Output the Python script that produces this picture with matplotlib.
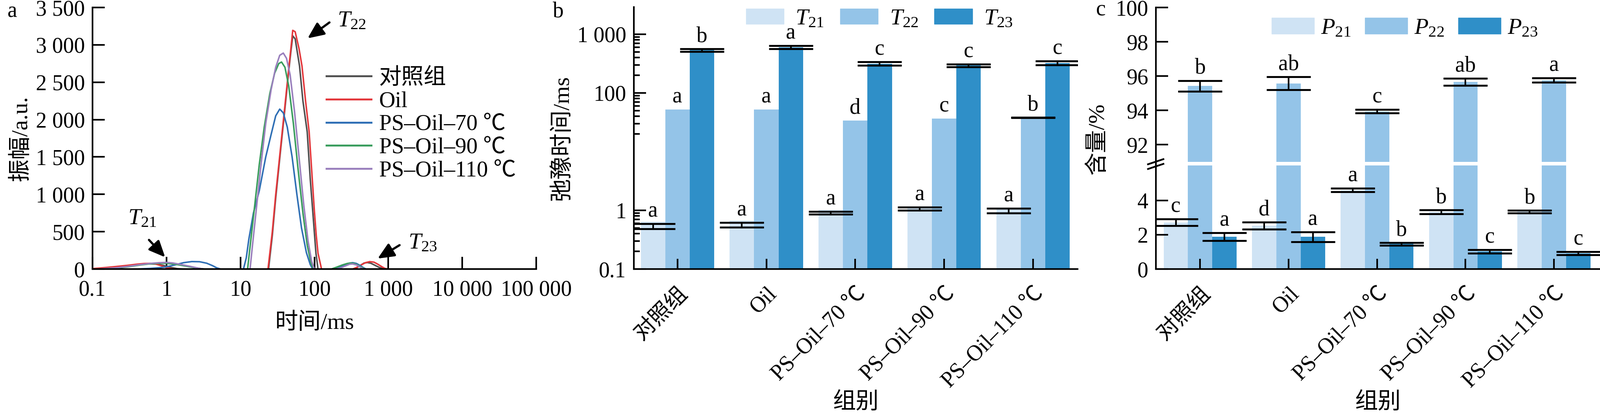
import numpy as np
import matplotlib
matplotlib.use('Agg')
import matplotlib.pyplot as plt
from matplotlib.lines import Line2D
from matplotlib.patches import Patch

plt.rcParams['font.family'] = ['Liberation Serif', 'Noto Sans CJK SC']
plt.rcParams['mathtext.fontset'] = 'custom'
plt.rcParams['mathtext.rm'] = 'Liberation Serif'
plt.rcParams['mathtext.it'] = 'Liberation Serif:italic'
plt.rcParams['font.size'] = 40
plt.rcParams['axes.linewidth'] = 3

# ---------------- data ----------------
# panel a: T2 distributions (time ms, amplitude)
ctrl_x = [0.1, 0.15, 0.2, 0.3, 0.4, 0.5, 0.6, 0.75, 0.9, 1.1, 1.4, 1.7,
          24, 27, 30, 35, 40, 45, 48, 51, 55, 63, 70, 80, 88, 95, 105, 112,
          340, 380, 420, 470, 520, 580, 660, 760, 910, 10000]
ctrl_y = [3, 15, 28, 45, 58, 66, 70, 66, 50, 25, 5, 0,
          0, 450, 950, 1600, 2150, 2650, 2900, 3120, 3080, 2717, 2250, 1835, 1200, 776, 212, 0,
          0, 22, 50, 80, 87, 78, 50, 20, 0, 0]
oil_x = [0.1, 0.15, 0.2, 0.3, 0.4, 0.5, 0.6, 0.7, 0.85, 1.0, 1.2, 1.4,
         23.6, 27, 30, 35, 40, 45, 48, 51, 55, 62, 68, 76, 85, 93, 100, 106, 112, 125,
         330, 380, 430, 490, 560, 640, 720, 820, 900, 980, 10000]
oil_y = [5, 20, 32, 50, 65, 74, 76, 70, 45, 20, 3, 0,
         0, 500, 995, 1635, 2190, 2680, 2940, 3194, 3175, 2950, 2717, 2250, 1835, 1250, 776, 450, 212, 0,
         0, 25, 55, 85, 99, 92, 65, 30, 8, 0, 0]
ps70_x = [0.1, 0.4, 0.6, 0.8, 1.0, 1.3, 1.7, 2.2, 2.8, 3.5, 4.2, 4.8, 5.4,
          11, 12, 13, 15, 18, 22, 26, 30, 34, 38, 43, 50, 58, 67, 78, 88, 95,
          190, 220, 260, 300, 330, 370, 420, 460, 500, 10000]
ps70_y = [0, 0, 8, 18, 30, 55, 85, 100, 98, 78, 45, 15, 0,
          0, 150, 400, 750, 1050, 1500, 1800, 2050, 2140, 2090, 1900, 1500, 1000, 550, 220, 60, 0,
          0, 20, 55, 80, 85, 75, 45, 18, 0, 0]
ps90_x = [0.1, 0.15, 0.2, 0.3, 0.45, 0.6, 0.8, 1.0, 1.3, 1.7, 2.2, 2.8, 3.3,
          12.5, 13.5, 15, 18, 21, 25, 29, 33, 36, 40, 45, 52, 60, 70, 80, 90, 97,
          170, 200, 240, 280, 310, 350, 400, 440, 480, 10000]
ps90_y = [0, 0, 10, 30, 55, 70, 78, 76, 65, 45, 25, 8, 0,
          0, 300, 700, 1400, 1900, 2350, 2620, 2750, 2770, 2700, 2450, 1950, 1350, 750, 320, 80, 0,
          0, 25, 55, 75, 80, 72, 45, 20, 0, 0]
ps110_x = [0.1, 0.12, 0.2, 0.3, 0.45, 0.6, 0.8, 1.0, 1.2, 1.5, 2.0, 2.6, 3.2,
           13.5, 14.5, 16, 19, 22, 26, 30, 34, 38, 42, 47, 54, 62, 72, 82, 92, 100,
           200, 230, 260, 300, 330, 370, 410, 460, 10000]
ps110_y = [0, 0, 15, 35, 60, 75, 85, 88, 82, 65, 40, 15, 0,
           0, 300, 700, 1400, 1950, 2400, 2700, 2860, 2890, 2820, 2600, 2100, 1500, 850, 380, 100, 0,
           0, 18, 40, 65, 68, 55, 30, 0, 0]
curve_names = ['对照组', 'Oil', 'PS–Oil–70 ℃', 'PS–Oil–90 ℃', 'PS–Oil–110 ℃']
curve_colors = ['#505050', '#e3383c', '#2f6fb5', '#3a9d5d', '#9a80bd']

# panels b, c: groups
groups = ['对照组', 'Oil', 'PS–Oil–70 ℃', 'PS–Oil–90 ℃', 'PS–Oil–110 ℃']
bar_colors = ['#cfe3f4', '#94c4e8', '#2f8fc8']

t21 = [0.54, 0.568, 0.91, 1.065, 0.99]
t21_err = [0.053, 0.053, 0.047, 0.065, 0.09]
t22 = [52.1, 52.1, 33.6, 36.6, 38.0]
t22_err = [0, 0, 0, 0, 0.5]
t23 = [535, 597, 315, 294, 323]
t23_err = [30, 37, 21, 15, 24]
t21_sig = ['a', 'a', 'a', 'a', 'a']
t22_sig = ['a', 'a', 'd', 'c', 'b']
t23_sig = ['b', 'a', 'c', 'c', 'c']

p21 = [2.72, 2.53, 4.61, 3.34, 3.35]
p21_err = [0.19, 0.2, 0.1, 0.12, 0.08]
p22 = [95.43, 95.58, 93.95, 95.66, 95.76]
p22_err = [0.31, 0.38, 0.1, 0.2, 0.13]
p23 = [1.88, 1.88, 1.47, 1.03, 0.92]
p23_err = [0.23, 0.29, 0.08, 0.1, 0.1]
p21_sig = ['c', 'd', 'a', 'b', 'b']
p22_sig = ['b', 'ab', 'c', 'ab', 'a']
p23_sig = ['a', 'a', 'b', 'c', 'c']

# ---------------- figure ----------------
W, H = 4064, 1051
fig = plt.figure(figsize=(W / 100, H / 100), dpi=100)


def px_axes(x0, y0, x1, y1):
    return fig.add_axes([x0 / W, 1 - y1 / H, (x1 - x0) / W, (y1 - y0) / H])


def style(ax):
    ax.spines['top'].set_visible(False)
    ax.spines['right'].set_visible(False)
    ax.tick_params(direction='in', width=3, length=22, pad=14)
    ax.tick_params(which='minor', direction='in', width=3, length=11)


# ---- panel a ----
ax = px_axes(235, 19, 1362, 683)
style(ax)
curves = [(ctrl_x, ctrl_y), (oil_x, oil_y), (ps70_x, ps70_y), (ps90_x, ps90_y), (ps110_x, ps110_y)]
for (cx, cy), name, col in zip(curves, curve_names, curve_colors):
    ax.plot(cx, cy, color=col, lw=2.8, label=name)
ax.set_xscale('log')
ax.set_xlim(0.1, 100000)
ax.set_ylim(0, 3500)
ax.set_xticks([0.1, 1, 10, 100, 1000, 10000, 100000])
ax.set_xticklabels(['0.1', '1', '10', '100', '1 000', '10 000', '100 000'])
ax.xaxis.set_minor_locator(matplotlib.ticker.NullLocator())
ax.set_yticks(np.arange(0, 3501, 500))
ax.set_yticklabels(['0', '500', '1 000', '1 500', '2 000', '2 500', '3 000', '3 500'])
ax.tick_params(axis='x', pad=20)
ax.set_xlabel('时间/ms', fontsize=42, labelpad=22)
ax.set_ylabel('振幅/a.u.', fontsize=42, labelpad=8)

arrow = dict(arrowstyle='-|>,head_length=0.9,head_width=0.4', lw=4, color='k',
             mutation_scale=28, shrinkA=0, shrinkB=0)
ax.annotate('', xy=(0.96, 158), xytext=(0.58, 390), arrowprops=arrow)
ax.text(0.3, 600, r'$\mathit{T}_{\mathrm{21}}$', fontsize=42, va='baseline')
ax.annotate('', xy=(81, 3087), xytext=(160, 3300), arrowprops=arrow)
ax.text(204, 3244, r'$\mathit{T}_{\mathrm{22}}$', fontsize=42, va='baseline')
ax.annotate('', xy=(718, 140), xytext=(1420, 320), arrowprops=arrow)
ax.text(1850, 273, r'$\mathit{T}_{\mathrm{23}}$', fontsize=42, va='baseline')

leg = ax.legend(loc='upper left', bbox_to_anchor=(829 / W, 1 - 172 / H),
                bbox_transform=fig.transFigure, frameon=False, fontsize=41,
                handlelength=2.0, handletextpad=0.35, labelspacing=0.12,
                borderpad=0, borderaxespad=0)
for ln in leg.get_lines():
    ln.set_linewidth(3.5)

fig.text(31 / W, 1 - 30 / H, 'a', fontsize=40, va='center', ha='center')

# ---- panel b ----
xg = np.arange(len(groups))
bw = 0.275
ax = px_axes(1610, 18, 2737, 683)
style(ax)
ax.set_yscale('log')
series_b = [(t21, t21_err, t21_sig), (t22, t22_err, t22_sig), (t23, t23_err, t23_sig)]
for i, (vals, errs, sig) in enumerate(series_b):
    pos = xg + (i - 1) * bw
    ax.bar(pos, vals, width=bw, color=bar_colors[i], bottom=0.1, zorder=1)
    errs = np.array(errs)
    m = errs > 0
    ax.errorbar(pos[m], np.array(vals)[m], yerr=errs[m], fmt='none', ecolor='k',
                elinewidth=3, capsize=40, capthick=3.5, zorder=3)
    for p, v, e, s in zip(pos, vals, errs, sig):
        ax.annotate(s, (p, v + e), xytext=(0, 4), textcoords='offset points',
                    ha='center', va='bottom', fontsize=40)
ax.set_xlim(-0.49, 4.5)
ax.set_ylim(0.1, 2900)
ax.set_yticks([0.1, 1, 100, 1000])
ax.set_yticklabels(['0.1', '1', '100', '1 000'])
ax.set_yticks([0.2, 0.3, 0.4, 0.5, 0.6, 0.7, 0.8, 0.9, 20, 30, 40, 50, 60, 70, 80, 90,
               200, 300, 400, 500, 600, 700, 800, 900], minor=True)
ax.yaxis.set_minor_formatter(matplotlib.ticker.NullFormatter())
ax.set_xticks(xg)
ax.set_xticklabels(groups, rotation=45, ha='right', va='top', rotation_mode='anchor')
ax.tick_params(axis='x', length=19, pad=26)
ax.set_xlabel('组别', fontsize=42, labelpad=0)
ax.set_ylabel('弛豫时间/ms', fontsize=42, labelpad=8)
handles = [Patch(color=c) for c in bar_colors]
ax.legend(handles, [r'$\mathit{T}_{\mathrm{21}}$', r'$\mathit{T}_{\mathrm{22}}$', r'$\mathit{T}_{\mathrm{23}}$'],
          loc='upper left', bbox_to_anchor=(1895 / W, 1 - 22 / H), bbox_transform=fig.transFigure,
          ncol=3, frameon=False, fontsize=42, handlelength=1.65, handleheight=0.65,
          handletextpad=0.5, columnspacing=0.7, borderpad=0, borderaxespad=0)
fig.text(1418 / W, 1 - 30 / H, 'b', fontsize=40, va='center', ha='center')

# ---- panel c (broken axis) ----
ax_hi = px_axes(2936, 19, W, 411)
ax_lo = px_axes(2936, 420, W, 683)
for a in (ax_hi, ax_lo):
    style(a)
    a.set_xlim(-0.5, 4.52)
ax_hi.spines['bottom'].set_visible(False)
ax_hi.tick_params(axis='x', bottom=False, labelbottom=False)
series_c = [(p21, p21_err, p21_sig), (p22, p22_err, p22_sig), (p23, p23_err, p23_sig)]
for i, (vals, errs, sig) in enumerate(series_c):
    pos = xg + (i - 1) * bw
    for a in (ax_hi, ax_lo):
        a.bar(pos, vals, width=bw, color=bar_colors[i], zorder=1)
        a.errorbar(pos, vals, yerr=errs, fmt='none', ecolor='k',
                   elinewidth=3, capsize=40, capthick=3.5, zorder=3)
    target = ax_hi if i == 1 else ax_lo
    for p, v, e, s in zip(pos, vals, errs, sig):
        target.annotate(s, (p, v + e), xytext=(0, 4), textcoords='offset points',
                        ha='center', va='bottom', fontsize=40)
ax_hi.set_ylim(91, 100)
ax_hi.set_yticks([92, 94, 96, 98, 100])
ax_lo.set_ylim(0, 6.05)
ax_lo.set_yticks([0, 2, 4])
ax_lo.set_xticks(xg)
ax_lo.set_xticklabels(groups, rotation=45, ha='right', va='top', rotation_mode='anchor')
ax_lo.tick_params(axis='x', length=19, pad=26)
ax_lo.set_xlabel('组别', fontsize=42, labelpad=0)
fig.text(2788 / W, 1 - 352 / H, '含量/%', fontsize=42, rotation=90, va='center', ha='center')
# spine through the gap and break marks
spx = 2936 / W
fig.add_artist(Line2D([spx, spx], [1 - 420 / H, 1 - 411 / H], color='k', lw=3))
for dy in (0, 12):
    fig.add_artist(Line2D([2916 / W, 2955 / W], [1 - (417 + dy) / H, 1 - (404 + dy) / H],
                          color='k', lw=3.2))
ax_hi.legend(handles, [r'$\mathit{P}_{\mathrm{21}}$', r'$\mathit{P}_{\mathrm{22}}$', r'$\mathit{P}_{\mathrm{23}}$'],
             loc='upper left', bbox_to_anchor=(3230 / W, 1 - 45 / H), bbox_transform=fig.transFigure,
             ncol=3, frameon=False, fontsize=42, handlelength=1.85, handleheight=0.7,
             handletextpad=0.3, columnspacing=0.6, borderpad=0, borderaxespad=0)
fig.text(2796 / W, 1 - 25 / H, 'c', fontsize=40, va='center', ha='center')

fig.savefig('out.png', dpi=100)
